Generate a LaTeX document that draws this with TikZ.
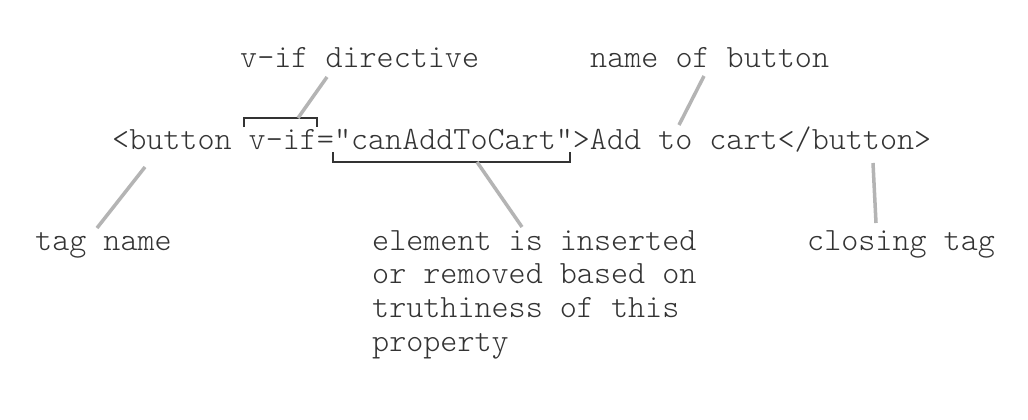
\documentclass[tikz,border=0pt]{standalone}
\usepackage{fontspec}
\setmonofont{Latin Modern Mono Light}
\begin{document}
\begin{tikzpicture}[x=1pt,y=-1pt,
  lbl/.style={inner sep=0pt,anchor=base west,text=txtc,font=\ttfamily\fontsize{32.5}{33.7}\selectfont},
  brk/.style={draw=txtc,line width=1.4pt},
  ptr/.style={draw=ptrc,line width=3.5pt}]
\definecolor{txtc}{HTML}{333333}
\definecolor{ptrc}{HTML}{B4B4B4}
\useasboundingbox[fill=white] (0,0) rectangle (1028,420);
\node[lbl] (code) at (112,149) {<button v-if="canAddToCart">Add to cart</button>};
\node[lbl] (vif) at (240,67) {v-if directive};
\node[lbl] (nob) at (590,67) {name of button};
\node[lbl] (tag) at (35,250) {tag name};
\node[lbl] (clt) at (807,250) {closing tag};
\node[lbl,align=left] (elem) at (372,351.1) {element is inserted\\or removed based on\\truthiness of this\\property};
% brackets
\coordinate (b1l) at (244,127); \coordinate (b1r) at (317,127);
\coordinate (b1m) at (298,118);
\draw[brk] (b1l) -- (244,118) -- (317,118) -- (b1r);
\coordinate (b2l) at (333,152); \coordinate (b2r) at (570,152);
\coordinate (b2m) at (477,162);
\draw[brk] (b2l) -- (333,162) -- (570,162) -- (b2r);
% pointers
\coordinate (p1) at (327,77);
\draw[ptr] (p1) -- (b1m);
\coordinate (p2a) at (522,227);
\draw[ptr] (b2m) -- (p2a);
\coordinate (p3a) at (145,167); \coordinate (p3b) at (97,228);
\draw[ptr] (p3a) -- (p3b);
\coordinate (p4a) at (704,76); \coordinate (p4b) at (679,125);
\draw[ptr] (p4a) -- (p4b);
\coordinate (p5a) at (873,163); \coordinate (p5b) at (876,223);
\draw[ptr] (p5a) -- (p5b);
\end{tikzpicture}
\end{document}
